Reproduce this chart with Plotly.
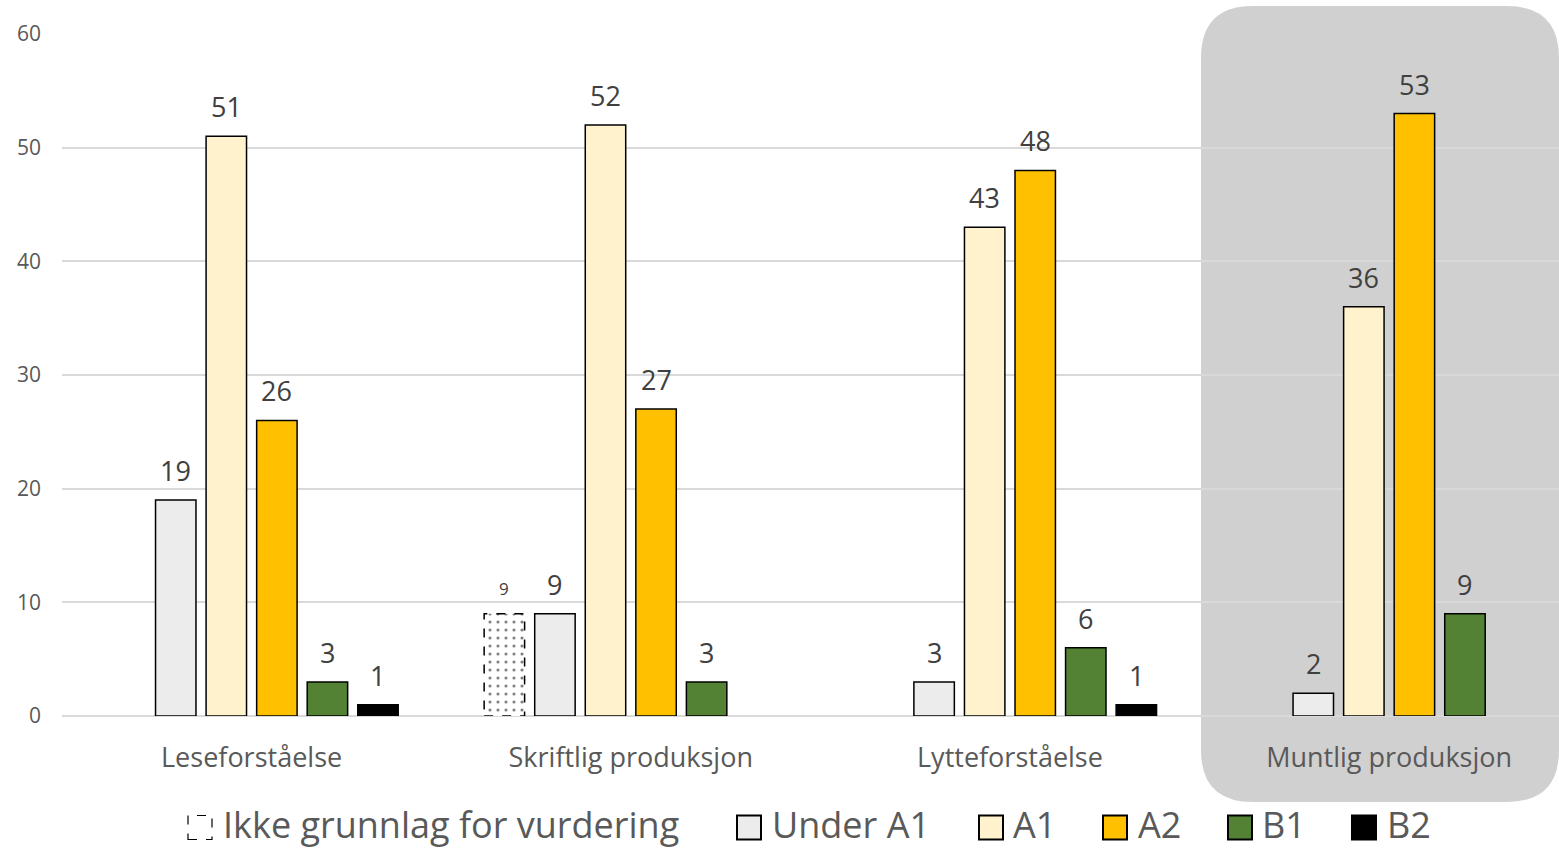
import plotly.graph_objects as go

categories = ["Leseforståelse", "Skriftlig produksjon", "Lytteforståelse", "Muntlig produksjon"]
series_names = ["Ikke grunnlag for vurdering", "Under A1", "A1", "A2", "B1", "B2"]
ikke_grunnlag = [None, 9, None, None]
under_a1 = [19, 9, 3, 2]
a1 = [51, 52, 43, 36]
a2 = [26, 27, 48, 53]
b1 = [3, 3, 6, 9]
b2 = [1, None, 1, None]
y_ticks = [0, 10, 20, 30, 40, 50, 60]

series_values = [ikke_grunnlag, under_a1, a1, a2, b1, b2]
colors = ["#ffffff", "#ececec", "#fff2cc", "#ffc000", "#548235", "#000000"]

FONT = "Open Sans"
W, H = 1559, 849
L, R, T, B = 62, 0, 34, 133
PW, PH = W - L - R, H - T - B

def px(x):
    return (x - L) / PW

def py(y):
    return (H - B - y) / PH

x_idx = list(range(len(categories)))
fig = go.Figure()

BARGAP, GROUPGAP = 0.2, 0.2
nser = len(series_names)
slot = (1 - BARGAP) / nser
half = slot * (1 - GROUPGAP) / 2

for k, (name, vals, col) in enumerate(zip(series_names, series_values, colors)):
    if k == 0:
        marker = dict(color="#ffffff",
                      pattern=dict(shape=".", fgcolor="#000000", bgcolor="#ffffff",
                                   size=8, solidity=0.12, fillmode="overlay"),
                      line=dict(width=0))
    else:
        marker = dict(color=col, line=dict(color="#000000", width=1.5))
    fig.add_trace(go.Bar(x=x_idx, y=vals, name=name, marker=marker,
                         cliponaxis=False, showlegend=False))
    # value labels above each bar
    off = -(1 - BARGAP) / 2 + slot * (k + 0.5)
    for i, v in enumerate(vals):
        if v is None:
            continue
        fig.add_annotation(xref="x", yref="y", x=i + off, y=v, text=str(v),
                           showarrow=False, xanchor="center", yanchor="bottom",
                           yshift=9 if k > 0 else 12,
                           font=dict(size=27 if k > 0 else 17, color="#404040",
                                     family=FONT))
        if k == 0:
            # dashed outline of the "Ikke grunnlag" bar
            fig.add_shape(type="rect", xref="x", yref="y",
                          x0=i + off - half, x1=i + off + half, y0=0, y1=v,
                          line=dict(color="#000000", width=1.5, dash="dash"),
                          fillcolor="rgba(0,0,0,0)", layer="above")

# highlighted rounded box behind "Muntlig produksjon"
bx0, bx1, by0, by1, r = 1201, 1559, 6, 802, 52
path = (f"M {px(bx0)},{py(by0 + r)} "
        f"Q {px(bx0)},{py(by0)} {px(bx0 + r)},{py(by0)} "
        f"L {px(bx1 - r)},{py(by0)} "
        f"Q {px(bx1)},{py(by0)} {px(bx1)},{py(by0 + r)} "
        f"L {px(bx1)},{py(by1 - r)} "
        f"Q {px(bx1)},{py(by1)} {px(bx1 - r)},{py(by1)} "
        f"L {px(bx0 + r)},{py(by1)} "
        f"Q {px(bx0)},{py(by1)} {px(bx0)},{py(by1 - r)} Z")
fig.add_shape(type="path", xref="paper", yref="paper", path=path,
              fillcolor="#d0d0d0", line=dict(width=0), layer="below")

# manual legend
leg_sq = [188, 737, 979, 1103, 1228, 1352]
leg_tx = [222, 771, 1012, 1137, 1261, 1386]
ly, s = 827.5, 24
for k, name in enumerate(series_names):
    x0 = leg_sq[k]
    if k == 0:
        fig.add_shape(type="rect", xref="paper", yref="paper",
                      x0=px(x0), x1=px(x0 + s), y0=py(ly + s / 2), y1=py(ly - s / 2),
                      line=dict(color="#000000", width=1.2, dash="dash"),
                      fillcolor="#ffffff")
    else:
        fig.add_shape(type="rect", xref="paper", yref="paper",
                      x0=px(x0), x1=px(x0 + s), y0=py(ly + s / 2), y1=py(ly - s / 2),
                      line=dict(color="#000000", width=2),
                      fillcolor=colors[k])
    fig.add_annotation(xref="paper", yref="paper", x=px(leg_tx[k]), y=py(ly - 3),
                       text=name, showarrow=False, xanchor="left", yanchor="middle",
                       borderpad=0,
                       font=dict(size=36, color="#595959", family=FONT))

fig.update_layout(
    width=W, height=H,
    margin=dict(l=L, r=R, t=T, b=B, autoexpand=False),
    paper_bgcolor="#ffffff", plot_bgcolor="rgba(0,0,0,0)",
    barmode="group", bargap=BARGAP, bargroupgap=GROUPGAP,
    font=dict(family=FONT, color="#595959"),
    xaxis=dict(tickmode="array", tickvals=x_idx, ticktext=categories,
               range=[-0.5, 3.448], showgrid=False, zeroline=False, showline=False,
               ticks="", tickfont=dict(size=27, color="#595959", family=FONT),
               ticklabelstandoff=23),
    yaxis=dict(range=[0, 60], tickvals=y_ticks, showgrid=True, gridcolor="#d9d9d9",
               gridwidth=1.5, zeroline=True, zerolinecolor="#d9d9d9", zerolinewidth=1.5,
               ticks="", tickfont=dict(size=21, color="#595959", family=FONT),
               ticklabelstandoff=20),
)

fig.write_html("out.html")
